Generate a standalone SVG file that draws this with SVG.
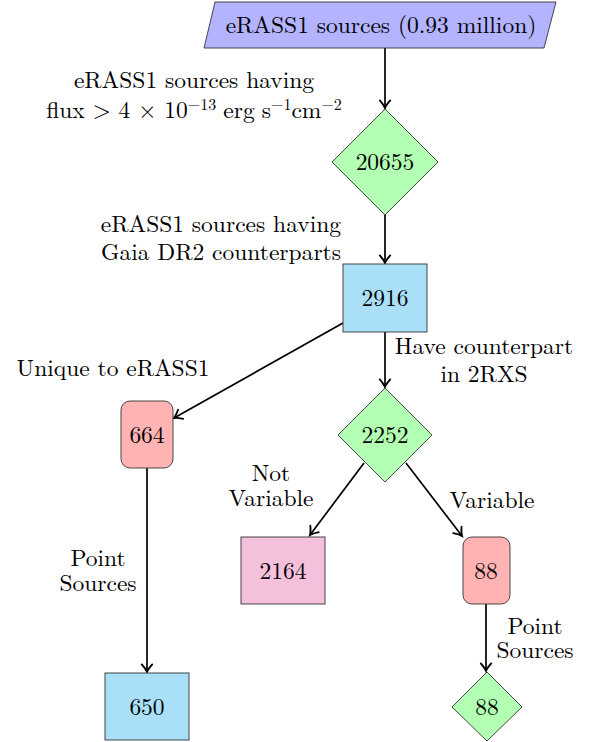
<svg xmlns="http://www.w3.org/2000/svg" width="590" height="742" viewBox="0 0 590 742" font-family="Latin Modern Roman, Liberation Serif, serif" font-size="23.5">
<style>
text{fill:#000}
.c{text-anchor:middle}
.r{text-anchor:end}
.node{stroke:#333;stroke-width:0.9}
.edge{stroke:#000;stroke-width:1.7;fill:none;marker-end:url(#arr)}
</style>
<defs>
<marker id="arr" markerUnits="userSpaceOnUse" markerWidth="14" markerHeight="14" viewBox="-8 -6 10 12" refX="0" refY="0" orient="auto">
<path d="M -6.5 -4.5 Q -2.5 -1 0 0 Q -2.5 1 -6.5 4.5" fill="none" stroke="#000" stroke-width="1.6" stroke-linecap="round"/>
</marker>
</defs>
<rect width="590" height="742" fill="#fff"/>
<g id="connectors">
<line class="edge" x1="385" y1="48" x2="385" y2="108"/>
<line class="edge" x1="385" y1="215" x2="385" y2="263"/>
<line class="edge" x1="385" y1="332" x2="385" y2="387"/>
<line class="edge" x1="343" y1="323" x2="174" y2="418"/>
<line class="edge" x1="147" y1="468" x2="147" y2="672"/>
<line class="edge" x1="364" y1="463" x2="310" y2="535"/>
<line class="edge" x1="406" y1="463" x2="462" y2="536"/>
<line class="edge" x1="486" y1="604" x2="486" y2="671"/>
</g>
<g id="labels">
<text class="c" x="194" y="88">eRASS1 sources having</text>
<text class="c" x="194" y="118">flux &gt; 4 × 10<tspan font-size="16" dy="-8">−13</tspan><tspan dy="8" dx="7">erg</tspan><tspan dx="7">s</tspan><tspan font-size="16" dy="-8">−1</tspan><tspan dy="8">cm</tspan><tspan font-size="16" dy="-8">−2</tspan></text>
<text class="r" x="341" y="232">eRASS1 sources having</text>
<text class="r" x="341" y="260">Gaia DR2 counterparts</text>
<text class="c" x="484" y="354">Have counterpart</text>
<text class="c" x="484" y="382">in 2RXS</text>
<text class="c" x="113" y="376">Unique to eRASS1</text>
<text class="c" x="271" y="481">Not</text>
<text class="c" x="271" y="506">Variable</text>
<text class="c" x="492" y="508">Variable</text>
<text class="c" x="98" y="566">Point</text>
<text class="c" x="98" y="591">Sources</text>
<text class="c" x="535" y="634">Point</text>
<text class="c" x="535" y="658">Sources</text>
</g>
<g id="n-erass">
<polygon class="node" points="215,2 556,2 544,48 204,48" fill="#b3b3ff"/>
<text class="c" x="381" y="33">eRASS1 sources (0.93 million)</text>
</g>
<g id="n-20655">
<polygon class="node" points="385,109 438,162 385,215 332,162" fill="#b3ffb3"/>
<text class="c" x="385" y="170">20655</text>
</g>
<g id="n-2916">
<rect class="node" x="343" y="264" width="84" height="68" fill="#aadff8"/>
<text class="c" x="385" y="306">2916</text>
</g>
<g id="n-2252">
<polygon class="node" points="385,388 432,435 385,482 338,435" fill="#b3ffb3"/>
<text class="c" x="385" y="443">2252</text>
</g>
<g id="n-664">
<rect class="node" x="121" y="401" width="52" height="67" rx="9" fill="#ffb3b3"/>
<text class="c" x="147" y="443">664</text>
</g>
<g id="n-2164">
<rect class="node" x="241" y="537" width="84" height="67" fill="#f5c0dc"/>
<text class="c" x="283" y="579">2164</text>
</g>
<g id="n-88a">
<rect class="node" x="463" y="537" width="47" height="67" rx="9" fill="#ffb3b3"/>
<text class="c" x="486" y="579">88</text>
</g>
<g id="n-650">
<rect class="node" x="105" y="673" width="84" height="67" fill="#aadff8"/>
<text class="c" x="147" y="715">650</text>
</g>
<g id="n-88b">
<polygon class="node" points="487,672 522,707 487,741 452,707" fill="#b3ffb3"/>
<text class="c" x="487" y="715">88</text>
</g>
</svg>
